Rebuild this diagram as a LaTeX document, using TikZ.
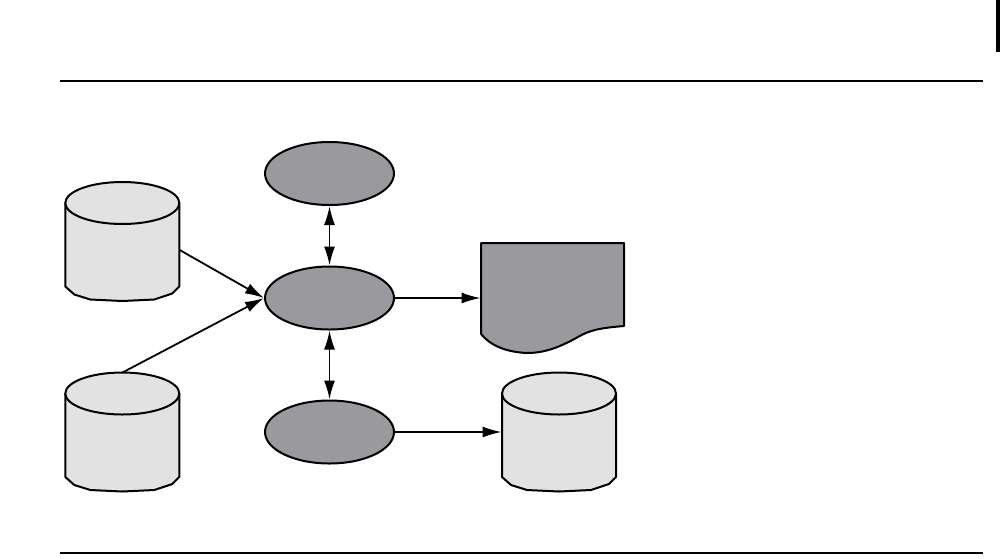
\documentclass[tikz,border=0pt]{standalone}
\usetikzlibrary{shapes.geometric,arrows.meta,calc}
\definecolor{lightg}{HTML}{E2E2E2}
\definecolor{darkg}{HTML}{9A999E}
\tikzset{
  proc/.style={ellipse,draw=black,line width=1pt,fill=darkg,minimum width=64.5pt,minimum height=31.5pt,inner sep=0pt},
  anchorbox/.style={rectangle,inner sep=0pt},
  shapeline/.style={draw=black,line width=1pt,line join=round},
  cylfill/.style={shapeline,fill=lightg},
  conn/.style={line width=0.9pt,-{Latex[length=9.5pt,width=5.5pt]}},
  bconn/.style={line width=0.9pt,{Latex[length=9.5pt,width=5.5pt]}-{Latex[length=9.5pt,width=5.5pt]}},
  rule/.style={line width=1pt}
}
\newcommand{\dbcyl}{%
  \path[cylfill] (-57,-38.5) -- (-57,45) -- (-48,53) -- (-32,58) -- (0,59.5) -- (32,58) -- (50,52) -- (57,45) -- (57,-38.5) -- cycle;
  \path[cylfill] (0,-38.5) ellipse [x radius=57, y radius=21];
}
\begin{document}
\begin{tikzpicture}[x=0.5pt,y=-0.5pt]
\useasboundingbox (0,0) rectangle (1000,558);
\fill[black] (995.5,0) rectangle (1000,52);
\coordinate (tl) at (60,81);
\coordinate (tr) at (983,81);
\coordinate (bl) at (60,553);
\coordinate (br) at (983,553);
\draw[rule] (tl) -- (tr);
\draw[rule] (bl) -- (br);
% cylinders
\node[anchorbox,minimum width=57pt,minimum height=58.5pt] (c1) at (122.3,241.5) {};
\node[anchorbox,minimum width=57pt,minimum height=59pt] (c2) at (122.3,432) {};
\node[anchorbox,minimum width=57pt,minimum height=59pt] (c3) at (559,432) {};
\begin{scope}[shift={(c1.center)}]\dbcyl\end{scope}
\begin{scope}[shift={(c2.center)}]\dbcyl\end{scope}
\begin{scope}[shift={(c3.center)}]\dbcyl\end{scope}
% ellipses
\node[proc] (top) at (329.5,173.5) {};
\node[proc] (mid) at (329.5,298) {};
\node[proc] (bot) at (329.5,432) {};
% document
\node[anchorbox,minimum width=71.5pt,minimum height=55pt] (doc) at (552.5,298) {};
\path[shapeline,fill=darkg] (481,243) -- (624,243) -- (624,326)
  .. controls (600,328) and (590,330) .. (578,337)
  .. controls (560,347) and (545,353) .. (527,353)
  .. controls (505,352) and (490,345) .. (481,334) -- cycle;
% connectors
\draw[bconn] (top.south) -- (mid.north);
\draw[bconn] (mid.south) -- (bot.north);
\draw[conn] ([yshift=-4.25pt]c1.east) -- (mid.west);
\draw[conn] (c2.north) -- (mid.west);
\draw[conn] (mid.east) -- (doc.west);
\draw[conn] (bot.east) -- (c3.west);
\end{tikzpicture}
\end{document}
